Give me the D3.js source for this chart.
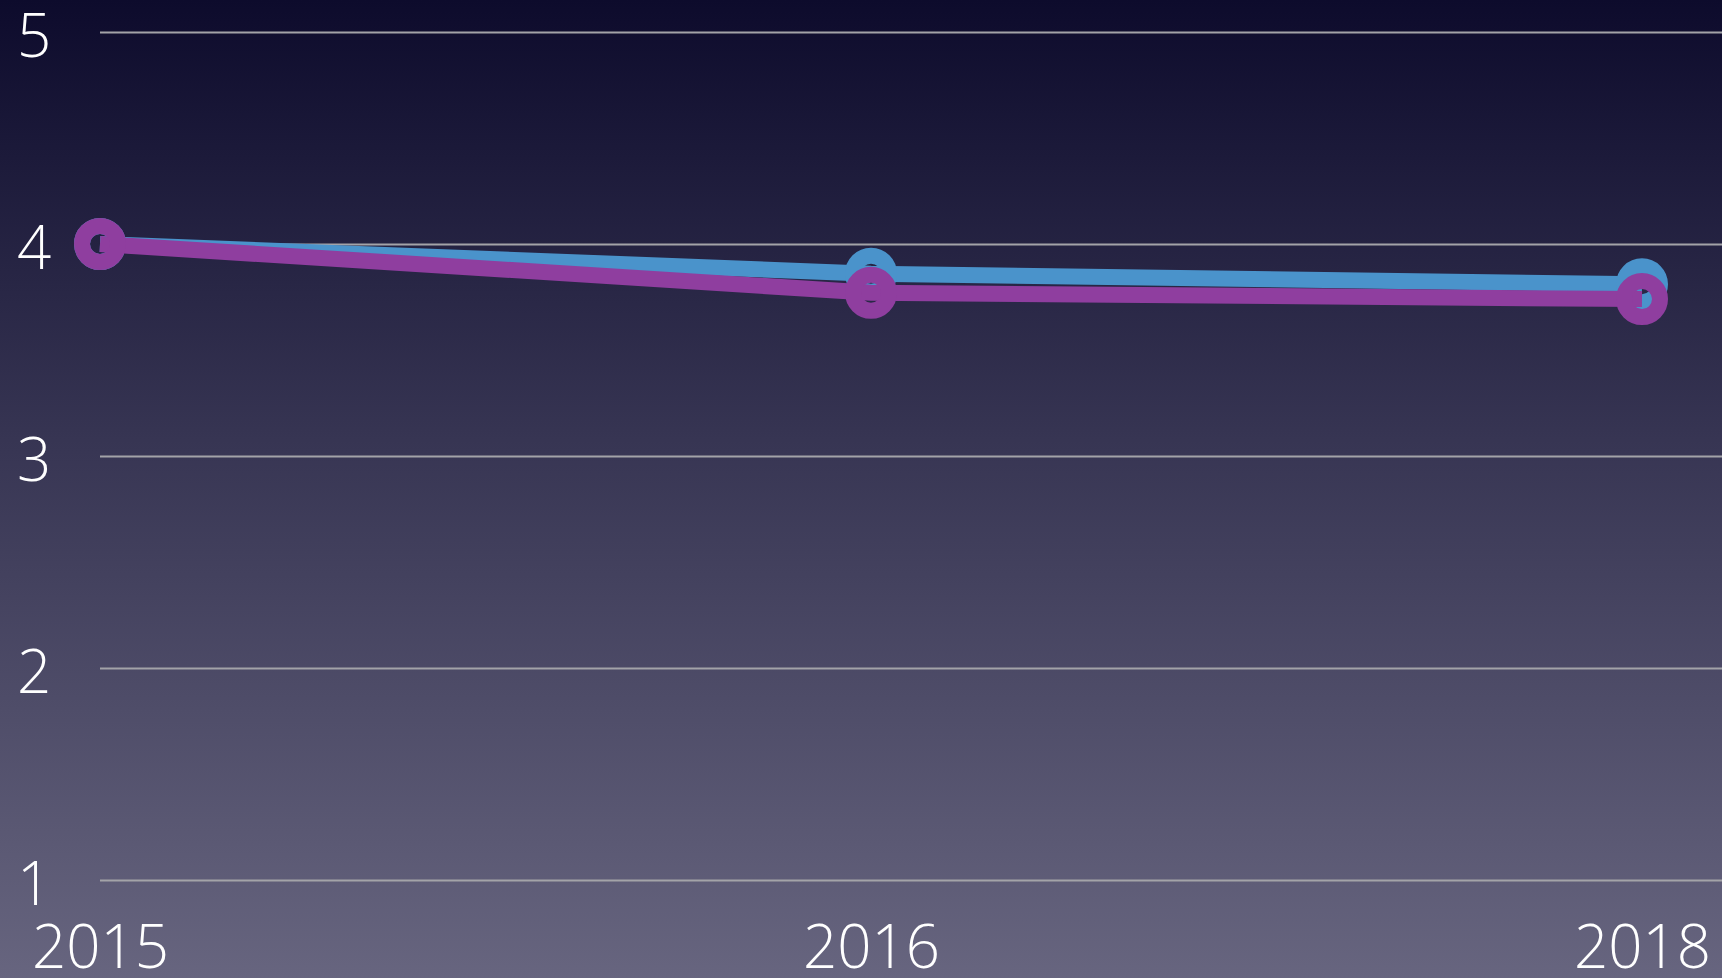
<!DOCTYPE html>
<html>
<head>
<meta charset="utf-8">
<script src="https://cdn.jsdelivr.net/npm/d3@7"></script>
<style>
  body { margin: 0; background: #0e0c2d; }
  svg { display: block; }
  .tick text { font-family: 'Open Sans', Roboto, Lato, sans-serif; font-weight: 300; fill: #fff; }
</style>
</head>
<body>
<script>
// chart values
var years = ['2015', '2016', '2018'];
var blueValues = [4.0, 3.86, 3.81];
var purpleValues = [4.0, 3.77, 3.74];
var yTicks = [1, 2, 3, 4, 5];

var seriesList = [
  {name: 'blue', values: blueValues, color: '#4a93cb'},
  {name: 'purple', values: purpleValues, color: '#8f3e9f'}
];

var W = 1722, H = 978;

var svg = d3.select('body').append('svg')
  .attr('width', W)
  .attr('height', H);

// background gradient
var defs = svg.append('defs');
var grad = defs.append('linearGradient')
  .attr('id', 'bg')
  .attr('x1', 0).attr('y1', 0).attr('x2', 0).attr('y2', 1);
grad.append('stop').attr('offset', '0%').attr('stop-color', '#0d0b2c');
grad.append('stop').attr('offset', '45%').attr('stop-color', '#373553');
grad.append('stop').attr('offset', '100%').attr('stop-color', '#67657f');

svg.append('rect')
  .attr('width', W)
  .attr('height', H)
  .attr('fill', 'url(#bg)');

// scales
var xScale = d3.scalePoint().domain(years).range([100, 1642]);
var yScale = d3.scaleLinear().domain([1, 5]).range([880, 32]);

// gridlines + y labels
var yAxis = svg.append('g')
  .attr('transform', 'translate(100,0)')
  .call(d3.axisLeft(yScale).tickValues(yTicks).tickSize(-(W - 100)).tickFormat(d3.format('d')));
yAxis.select('.domain').remove();
yAxis.selectAll('.tick line')
  .attr('stroke', '#a3a3a8')
  .attr('stroke-width', 2);
yAxis.selectAll('.tick text')
  .attr('x', -83)
  .attr('dy', 24)
  .attr('text-anchor', 'start')
  .style('font-size', '60px');

// x labels
var xAxis = svg.append('g')
  .attr('transform', 'translate(0,968)')
  .call(d3.axisBottom(xScale).tickSize(0));
xAxis.select('.domain').remove();
xAxis.selectAll('.tick text')
  .attr('y', 0)
  .attr('dy', 0)
  .style('font-size', '60px');

// lines and markers
var line = d3.line()
  .x((d, i) => xScale(years[i]))
  .y(d => yScale(d));

seriesList.forEach(function(s) {
  svg.append('path')
    .datum(s.values)
    .attr('d', line)
    .attr('fill', 'none')
    .attr('stroke', s.color)
    .attr('stroke-width', 16);

  svg.selectAll('.pt-' + s.name)
    .data(s.values)
    .enter()
    .append('circle')
    .attr('class', 'pt-' + s.name)
    .attr('cx', (d, i) => xScale(years[i]))
    .attr('cy', d => yScale(d))
    .attr('r', 18)
    .attr('fill', 'none')
    .attr('stroke', s.color)
    .attr('stroke-width', 16);
});
</script>
</body>
</html>
